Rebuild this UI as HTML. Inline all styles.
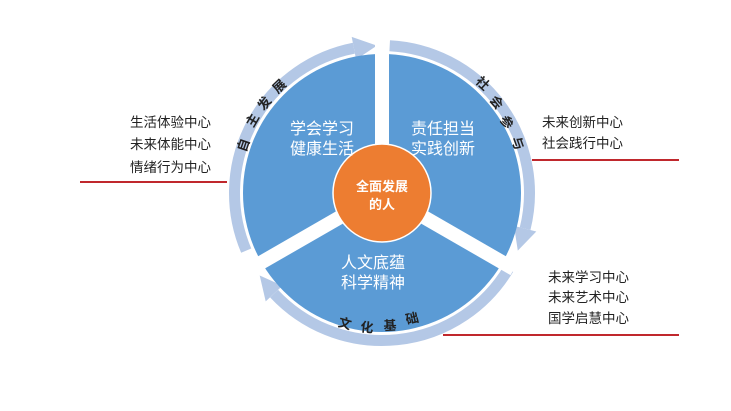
<!DOCTYPE html>
<html><head><meta charset="utf-8"><style>
html,body{margin:0;padding:0;background:#fff;}
svg{display:block}
text{font-family:"Liberation Sans","Noto Sans CJK SC",sans-serif;}
</style></head><body>
<svg width="731" height="411" viewBox="0 0 731 411" xmlns="http://www.w3.org/2000/svg">
<rect width="731" height="411" fill="#fff"/>
<!-- ring arcs -->
<g fill="none" stroke="#b4c8e6" stroke-width="11">
<path d="M389.7 45.7 A147.5 147.5 0 0 1 525.1 228.7"/>
<path d="M508.4 269.0 A147.5 147.5 0 0 1 274.1 293.6"/>
<path d="M246.2 250.6 A147.5 147.5 0 0 1 353.9 48.2"/>
</g>
<g fill="#b4c8e6">
<polygon points="514.0,225.9 536.3,231.5 517.8,250.6"/>
<polygon points="282.5,285.8 265.7,301.4 259.7,275.5"/>
<polygon points="356.1,59.5 351.7,36.9 376.9,45.6"/>
</g>
<!-- pie -->
<circle cx="382" cy="193" r="139" fill="#5b9bd5"/>
<g stroke="#fff" stroke-width="14">
<line x1="382" y1="193" x2="382" y2="40"/>
<line x1="382" y1="193" x2="514" y2="269"/>
<line x1="382" y1="193" x2="250" y2="269"/>
</g>
<circle cx="382" cy="193" r="49" fill="#ed7d31" stroke="#fff" stroke-width="1.5"/>
<g fill="#fff" font-size="16" text-anchor="middle">
<text x="322" y="134">学会学习</text>
<text x="322" y="154">健康生活</text>
<text x="443" y="134">责任担当</text>
<text x="443" y="154">实践创新</text>
<text x="373" y="268">人文底蕴</text>
<text x="373" y="288">科学精神</text>
</g>
<g fill="#fff" font-size="13" font-weight="bold" text-anchor="middle">
<text x="382" y="191">全面发展</text>
<text x="382" y="209">的人</text>
</g>
<g fill="#222" font-size="13" font-weight="bold" text-anchor="middle">
<text transform="translate(243,145) rotate(-71)" y="5">自</text>
<text transform="translate(252,120) rotate(-60)" y="5">主</text>
<text transform="translate(264,103) rotate(-53)" y="5">发</text>
<text transform="translate(279,86) rotate(-44)" y="5">展</text>
<text transform="translate(483,83) rotate(43)" y="5">社</text>
<text transform="translate(497,102) rotate(52)" y="5">会</text>
<text transform="translate(507,122) rotate(60)" y="5">参</text>
<text transform="translate(518,143) rotate(70)" y="5">与</text>
<text transform="translate(345,323) rotate(16)" y="5">文</text>
<text transform="translate(367,327) rotate(6)" y="5">化</text>
<text transform="translate(390,325) rotate(-3)" y="5">基</text>
<text transform="translate(412,318) rotate(-13)" y="5">础</text>
</g>
<g fill="#222" font-size="13.5">
<text x="211" y="127" text-anchor="end">生活体验中心</text>
<text x="211" y="149" text-anchor="end">未来体能中心</text>
<text x="211" y="172" text-anchor="end">情绪行为中心</text>
<text x="542" y="127">未来创新中心</text>
<text x="542" y="148">社会践行中心</text>
<text x="548" y="282">未来学习中心</text>
<text x="548" y="302">未来艺术中心</text>
<text x="548" y="323">国学启慧中心</text>
</g>
<g stroke="#c0282d" stroke-width="2">
<line x1="80" y1="182" x2="227" y2="182"/>
<line x1="532" y1="160" x2="679" y2="160"/>
<line x1="443" y1="335" x2="679" y2="335"/>
</g>
</svg>
</body></html>
